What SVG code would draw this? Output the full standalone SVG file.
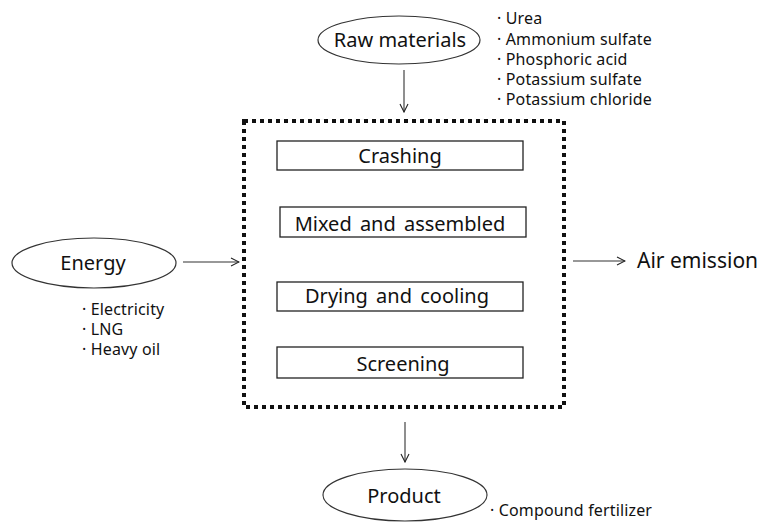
<svg xmlns="http://www.w3.org/2000/svg" width="758" height="522" viewBox="0 0 758 522">
<defs>
<marker id="ah" viewBox="0 0 10 10" refX="9" refY="5" markerWidth="10" markerHeight="10" markerUnits="userSpaceOnUse" orient="auto">
<path d="M1,1 L9,5 L1,9" fill="none" stroke="#222" stroke-width="1.1"/>
</marker>
<style>
.t{font-family:"Noto Sans","Liberation Sans",sans-serif;fill:#111}
.big{font-size:20px}
.sm{font-size:16px;letter-spacing:0.15px}
.ws{word-spacing:3px}
.el{fill:#fff;stroke:#333;stroke-width:1.2}
.bx{fill:#fff;stroke:#222;stroke-width:1.3}
.ln{stroke:#333;stroke-width:1.1;fill:none;marker-end:url(#ah)}
</style>
</defs>
<rect width="758" height="522" fill="#fff"/>
<g id="process-frame">
<rect x="244" y="121" width="320" height="286" fill="none" stroke="#111" stroke-width="4" stroke-dasharray="4 4"/>
</g>
<g id="raw-materials">
<ellipse class="el" cx="399" cy="40" rx="81" ry="24"/>
<text class="t big" x="400" y="47" text-anchor="middle">Raw materials</text>
<text class="t sm" x="497" y="24">· Urea</text>
<text class="t sm" x="497" y="45">· Ammonium sulfate</text>
<text class="t sm" x="497" y="65">· Phosphoric acid</text>
<text class="t sm" x="497" y="85">· Potassium sulfate</text>
<text class="t sm" x="497" y="105">· Potassium chloride</text>
</g>
<g id="energy">
<ellipse class="el" cx="94" cy="263" rx="82" ry="25"/>
<text class="t big" x="93" y="270" text-anchor="middle">Energy</text>
<text class="t sm" x="82" y="315">· Electricity</text>
<text class="t sm" x="82" y="335">· LNG</text>
<text class="t sm" x="82" y="355">· Heavy oil</text>
</g>
<g id="crashing">
<rect class="bx" x="277" y="141" width="246" height="29"/>
<text class="t big" x="400" y="163" text-anchor="middle">Crashing</text>
</g>
<g id="mixed">
<rect class="bx" x="280" y="207" width="246" height="30"/>
<text class="t big ws" x="400" y="231" text-anchor="middle">Mixed and assembled</text>
</g>
<g id="drying">
<rect class="bx" x="277" y="282" width="246" height="29"/>
<text class="t big ws" x="397" y="303" text-anchor="middle">Drying and cooling</text>
</g>
<g id="screening">
<rect class="bx" x="277" y="347" width="246" height="31"/>
<text class="t big" x="403" y="371" text-anchor="middle">Screening</text>
</g>
<g id="air-emission">
<text class="t" style="font-size:21px" x="637" y="268">Air emission</text>
</g>
<g id="product">
<ellipse class="el" cx="405" cy="495" rx="82" ry="26"/>
<text class="t big" x="404" y="503" text-anchor="middle">Product</text>
<text class="t sm" x="490" y="516">· Compound fertilizer</text>
</g>
<g id="connectors">
<line class="ln" x1="404" y1="70" x2="404" y2="112"/>
<line class="ln" x1="183" y1="262" x2="239" y2="262"/>
<line class="ln" x1="573" y1="261" x2="625" y2="261"/>
<line class="ln" x1="405" y1="422" x2="405" y2="462"/>
</g>
</svg>
